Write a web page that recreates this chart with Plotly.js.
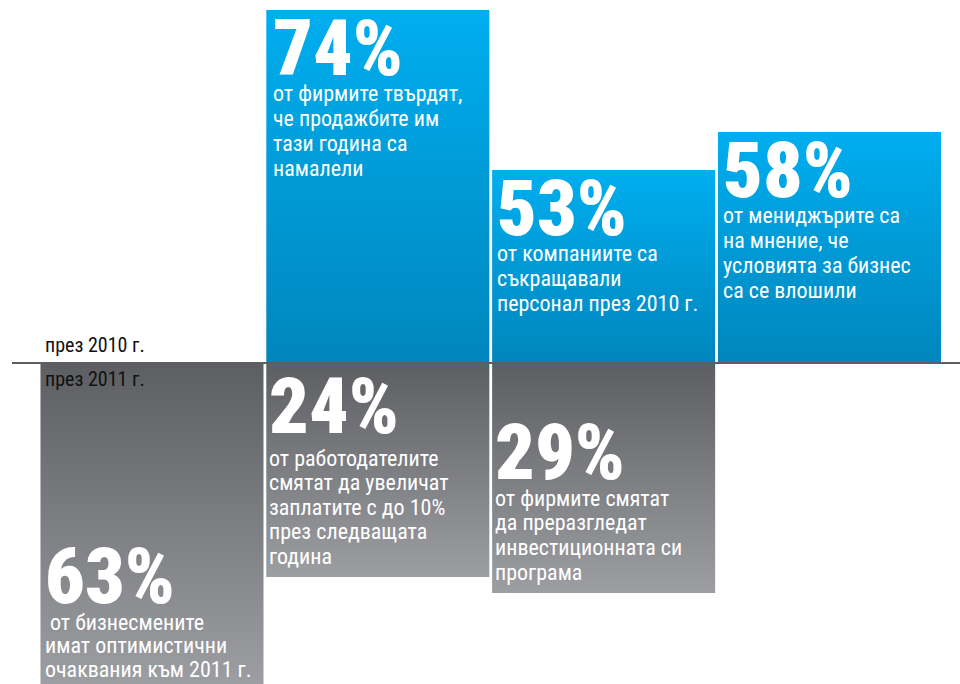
<!DOCTYPE html>
<html><head><meta charset="utf-8">
<script src="https://cdn.plot.ly/plotly-3.0.1.min.js"></script>
<style>html,body{margin:0;padding:0;background:#fff}#chart{width:960px;height:684px}</style>
</head><body><div id="chart"></div>
<script>
// ---- data ----
const columns = [0, 1, 2, 3];
const upperPercent = [null, 74, 53, 58];          // през 2010 г.
const lowerPercent = [63, 24, 29, null];          // през 2011 г.
const upperBarLength = [null, 353, 193, 231];     // bar length as drawn (arbitrary units)
const lowerBarLength = [322, 214, 230, null];
const upperLabel = 'през 2010 г.';
const lowerLabel = 'през 2011 г.';
const upperCaptions = [null,
  ['от фирмите твърдят,', 'че продажбите им', 'тази година са', 'намалели'],
  ['от компаниите са', 'съкращавали', 'персонал през 2010 г.'],
  ['от мениджърите са', 'на мнение, че', 'условията за бизнес', 'са се влошили']];
const lowerCaptions = [
  [' от бизнесмените', 'имат оптимистични', 'очаквания към 2011 г.'],
  ['от работодателите', 'смятат да увеличат', 'заплатите с до 10%', 'през следващата', 'година'],
  ['от фирмите смятат', 'да преразгледат', 'инвестиционната си', 'програма'],
  null];

// ---- styling / layout ----
const FONT = '"Liberation Sans Narrow", "Roboto Condensed", "Arial Narrow", "DejaVu Sans Condensed", sans-serif';
const BW = 0.9876;
const BLUE = [[0, '#0086bd'], [1, '#00aeef']];
const GREY = [[0, '#9d9ea2'], [1, '#5d5e62']];
const NUM_SIZE = 78, TXT_SIZE = 22;
// text baselines (px below bar's outer anchor) and left insets
const upperTextPos = {num: 68, body: 91, step: 25, inset: 6};
const lowerTextPos = [
  {num: 243, body: 267, step: 23.7, inset: 6},
  {num: 73, body: 103, step: 24.5, inset: 4},
  {num: 119, body: 143, step: 24.7, inset: 4},
  null];

const traces = [];
function barTrace(i, y0, y1, scale) {
  const xl = columns[i] - BW / 2, xr = columns[i] + BW / 2;
  return {
    type: 'scatter', mode: 'lines', x: [xl, xr, xr, xl, xl], y: [y0, y0, y1, y1, y0],
    fill: 'toself', line: {width: 0}, hoverinfo: 'skip', showlegend: false,
    fillgradient: {type: 'vertical', colorscale: scale, start: Math.min(y0, y1), stop: Math.max(y0, y1)}
  };
}
columns.forEach(i => {
  if (upperBarLength[i] != null) traces.push(barTrace(i, 0, upperBarLength[i], BLUE));
  if (lowerBarLength[i] != null) traces.push(barTrace(i, -lowerBarLength[i], 0, GREY));
});

const annotations = [];
function txt(i, yData, baselineBelow, inset, text, size, bold, color) {
  annotations.push({
    x: columns[i] - BW / 2, y: yData, xref: 'x', yref: 'y', xanchor: 'left', yanchor: 'bottom',
    xshift: inset - 3, yshift: -(baselineBelow + 0.21 * size + 2),
    text: text, showarrow: false, align: 'left',
    font: {family: FONT, size: size, color: color, weight: bold ? 900 : 400}
  });
}
columns.forEach(i => {
  if (upperPercent[i] != null) {
    const top = upperBarLength[i], p = upperTextPos, ins = p.inset + (i === 1 ? 2 : 0);
    txt(i, top, p.num, ins, upperPercent[i] + '%', NUM_SIZE, true, '#ffffff');
    upperCaptions[i].forEach((l, k) => txt(i, top, p.body + k * p.step, ins, l, TXT_SIZE, false, '#ffffff'));
  }
  if (lowerPercent[i] != null) {
    const p = lowerTextPos[i];
    txt(i, 0, p.num, p.inset, lowerPercent[i] + '%', NUM_SIZE, true, '#ffffff');
    lowerCaptions[i].forEach((l, k) => txt(i, 0, p.body + k * p.step, p.inset, l.replace(/^ /, '&nbsp;'), TXT_SIZE, false, '#ffffff'));
  }
});
txt(0, 0, -10, 6, upperLabel, 20, false, '#111111');
txt(0, 0, 24, 6, lowerLabel, 20, false, '#111111');

const layout = {
  width: 960, height: 684, margin: {l: 0, r: 0, t: 0, b: 0},
  paper_bgcolor: '#ffffff', plot_bgcolor: '#ffffff',
  xaxis: {range: [-0.673, 3.578], visible: false, fixedrange: true},
  yaxis: {range: [-321, 363], visible: false, fixedrange: true},
  shapes: [{type: 'line', xref: 'paper', yref: 'y', x0: 12 / 960, x1: 1, y0: 0, y1: 0,
            line: {color: '#5d5e62', width: 2}, layer: 'above'}],
  annotations: annotations,
  showlegend: false
};
Plotly.newPlot('chart', traces, layout, {displayModeBar: false, staticPlot: true});
</script></body></html>
